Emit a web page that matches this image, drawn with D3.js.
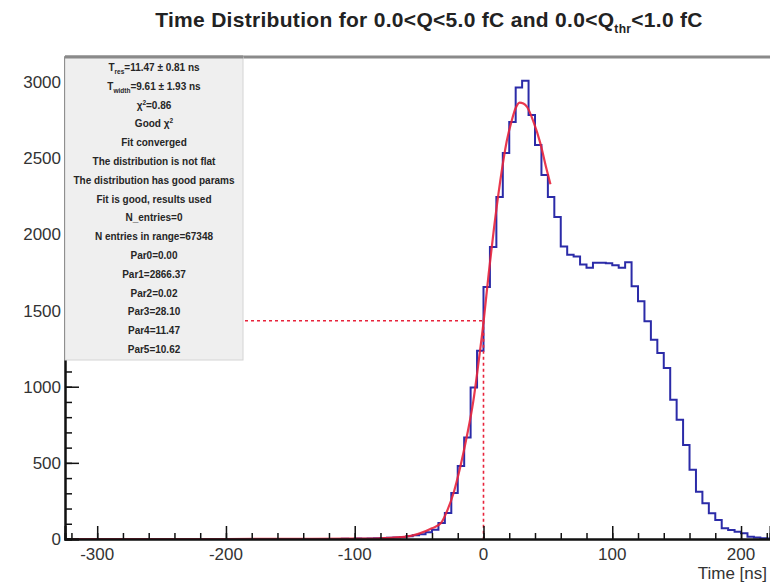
<!DOCTYPE html>
<html>
<head>
<meta charset="utf-8">
<script src="https://cdn.jsdelivr.net/npm/d3@7"></script>
<style>
  body { margin: 0; background: #fff; }
  svg { display: block; font-family: "Liberation Sans", Arial, sans-serif; }
</style>
</head>
<body>
<svg id="drawing_region"></svg>
<script>
// histogram: 5 ns bins from -325 ns
const binStart = -325;
const binWidth = 5;
const counts = [
    0, 0, 0, 0, 0, 0, 0, 0, 0, 0,
    0, 0, 0, 0, 0, 0, 0, 0, 0, 0,
    0, 0, 0, 0, 0, 0, 0, 0, 0, 0,
    0, 0, 0, 0, 0, 0, 0, 0, 0, 0,
    0, 0, 0,
    2, 0, 3, 2, 4, 5, 6, 8, 10, 12,
    18, 24, 32, 45, 60, 105, 170, 302, 480, 666,
    995, 1236, 1655, 1917, 2246, 2534, 2738, 2965, 3009, 2784,
    2587, 2390, 2246, 2114, 1920, 1866, 1855, 1803, 1781, 1814,
    1814, 1810, 1797, 1781, 1818, 1660, 1561, 1430, 1309, 1222,
    1123, 914, 783, 618, 454, 311, 235, 169, 125, 70,
    59, 48, 37, 15, 10, 5, 3
];

// fit curve
const fitTime = [-325, -200, -100, -80, -60, -50, -40, -33, -28, -23, -18, -13, -8, -4, 0, 4, 8, 13, 18, 22, 25, 28, 31, 34, 39, 44, 49, 52];
const fitValue = [0, 0, 2, 5, 15, 35, 70, 105, 190, 309, 474, 671, 900, 1150, 1421, 1740, 2030, 2350, 2610, 2750, 2830, 2866, 2860, 2835, 2735, 2603, 2428, 2329];

// half maximum marker
const halfMax = 1433;
const halfTime = 0;

const xTicks = [-300, -200, -100, 0, 100, 200];
const yTicks = [0, 500, 1000, 1500, 2000, 2500, 3000];

const statsLines = [
    [['T', ''], ['res', 'sub'], ['=11.47 \u00b1 0.81 ns', '']],
    [['T', ''], ['width', 'sub'], ['=9.61 \u00b1 1.93 ns', '']],
    [['\u03c7', ''], ['2', 'sup'], ['=0.86', '']],
    [['Good \u03c7', ''], ['2', 'sup']],
    [['Fit converged', '']],
    [['The distribution is not flat', '']],
    [['The distribution has good params', '']],
    [['Fit is good, results used', '']],
    [['N_entries=0', '']],
    [['N entries in range=67348', '']],
    [['Par0=0.00', '']],
    [['Par1=2866.37', '']],
    [['Par2=0.02', '']],
    [['Par3=28.10', '']],
    [['Par4=11.47', '']],
    [['Par5=10.62', '']]
];

const width = 770, height = 582;
const margin = {top: 57, right: 0, bottom: 43, left: 65};

const svg = d3.select('#drawing_region')
    .attr('width', width)
    .attr('height', height);

const xscale = d3.scaleLinear()
    .domain([-325, 222.5])
    .range([margin.left, width - margin.right]);

const yscale = d3.scaleLinear()
    .domain([0, 3165])
    .range([height - margin.bottom, margin.top]);

const bins = counts.map((c, i) => ({x0: binStart + i * binWidth, c: c}));
const last = bins[bins.length - 1];

// title
const title = svg.append('text')
    .attr('x', 429)
    .attr('y', 27)
    .attr('text-anchor', 'middle')
    .attr('font-size', 21)
    .attr('font-weight', 'bold')
    .attr('letter-spacing', 0.3)
    .attr('fill', '#222');
title.append('tspan').text('Time Distribution for 0.0<Q<5.0 fC and 0.0<Q');
title.append('tspan').attr('font-size', 12).attr('dy', 6).text('thr');
title.append('tspan').attr('dy', -6).text('<1.0 fC');

// top frame line
svg.append('line')
    .attr('x1', margin.left).attr('x2', width)
    .attr('y1', margin.top).attr('y2', margin.top)
    .attr('stroke', '#8a8a8a')
    .attr('stroke-width', 3);

// histogram
const histLine = d3.line()
    .x(d => xscale(d.x0))
    .y(d => yscale(d.c))
    .curve(d3.curveStepAfter);

svg.append('path')
    .datum(bins.concat([{x0: last.x0 + binWidth, c: last.c}]))
    .attr('d', histLine)
    .attr('fill', 'none')
    .attr('stroke', '#2b2ba8')
    .attr('stroke-width', 2);

// fit
const fitPts = fitTime.map((t, i) => ({t: t, v: fitValue[i]}));
svg.append('path')
    .datum(fitPts)
    .attr('d', d3.line().x(d => xscale(d.t)).y(d => yscale(d.v)).curve(d3.curveMonotoneX))
    .attr('fill', 'none')
    .attr('stroke', '#e8233b')
    .attr('stroke-width', 2.2)
    .attr('opacity', 0.9);

// dashed half max lines
svg.append('line')
    .attr('x1', xscale(-325)).attr('x2', xscale(halfTime))
    .attr('y1', yscale(halfMax)).attr('y2', yscale(halfMax))
    .attr('stroke', '#e8233b')
    .attr('stroke-width', 1.6)
    .attr('stroke-dasharray', '3,3');

svg.append('line')
    .attr('x1', xscale(halfTime)).attr('x2', xscale(halfTime))
    .attr('y1', yscale(halfMax)).attr('y2', yscale(0))
    .attr('stroke', '#e8233b')
    .attr('stroke-width', 1.6)
    .attr('stroke-dasharray', '3,3');

// axes (ticks inside, ROOT style)
const xaxis = d3.axisTop(xscale)
    .tickValues(d3.range(-320, 221, 20))
    .tickSize(6)
    .tickFormat('');
const xaxisMajor = d3.axisTop(xscale)
    .tickValues(xTicks)
    .tickSize(13)
    .tickFormat('');

const xg = svg.append('g')
    .attr('transform', `translate(0, ${yscale(0)})`);
xg.call(xaxis);
xg.append('g').call(xaxisMajor);
xg.selectAll('.domain').attr('stroke', '#111').attr('stroke-width', 2);
xg.selectAll('line').attr('stroke', '#111').attr('stroke-width', 1.5);

const yaxis = d3.axisRight(yscale)
    .tickValues(d3.range(0, 3101, 100))
    .tickSize(7)
    .tickFormat('');
const yaxisMajor = d3.axisRight(yscale)
    .tickValues(yTicks)
    .tickSize(14)
    .tickFormat('');

const yg = svg.append('g')
    .attr('transform', `translate(${margin.left}, 0)`);
yg.call(yaxis);
yg.append('g').call(yaxisMajor);
yg.selectAll('.domain').attr('stroke', '#111').attr('stroke-width', 2);
yg.selectAll('line').attr('stroke', '#111').attr('stroke-width', 1.5);

// tick labels
svg.append('g').selectAll('text')
    .data(xTicks)
    .join('text')
    .attr('x', d => xscale(d))
    .attr('y', 560)
    .attr('text-anchor', 'middle')
    .attr('font-size', 17)
    .attr('fill', '#333')
    .text(d => d);

svg.append('g').selectAll('text')
    .data(yTicks)
    .join('text')
    .attr('x', 61)
    .attr('y', d => yscale(d) + 6)
    .attr('text-anchor', 'end')
    .attr('font-size', 17)
    .attr('fill', '#333')
    .text(d => d);

svg.append('text')
    .attr('x', 767)
    .attr('y', 579)
    .attr('text-anchor', 'end')
    .attr('font-size', 17)
    .attr('fill', '#333')
    .text('Time [ns]');

// stats box
svg.append('rect')
    .attr('x', 65).attr('y', 57)
    .attr('width', 178).attr('height', 303)
    .attr('fill', '#efefef')
    .attr('stroke', '#d4d4d4')
    .attr('stroke-width', 1);

svg.append('line')
    .attr('x1', 65).attr('x2', 243)
    .attr('y1', 57).attr('y2', 57)
    .attr('stroke', '#8a8a8a')
    .attr('stroke-width', 3);

const stats = svg.append('g')
    .attr('font-size', 10)
    .attr('font-weight', 'bold')
    .attr('fill', '#262626')
    .attr('text-anchor', 'middle');

statsLines.forEach((parts, i) => {
    const t = stats.append('text')
        .attr('x', 154)
        .attr('y', 71 + i * 18.8);
    parts.forEach((p, j) => {
        const s = t.append('tspan').text(p[0]);
        if (p[1] === 'sub') s.attr('font-size', 6.5).attr('dy', 3);
        else if (p[1] === 'sup') s.attr('font-size', 6.5).attr('dy', -4);
        else if (j > 0) s.attr('dy', parts[j - 1][1] === 'sub' ? -3 : 4);
    });
});
</script>
</body>
</html>
